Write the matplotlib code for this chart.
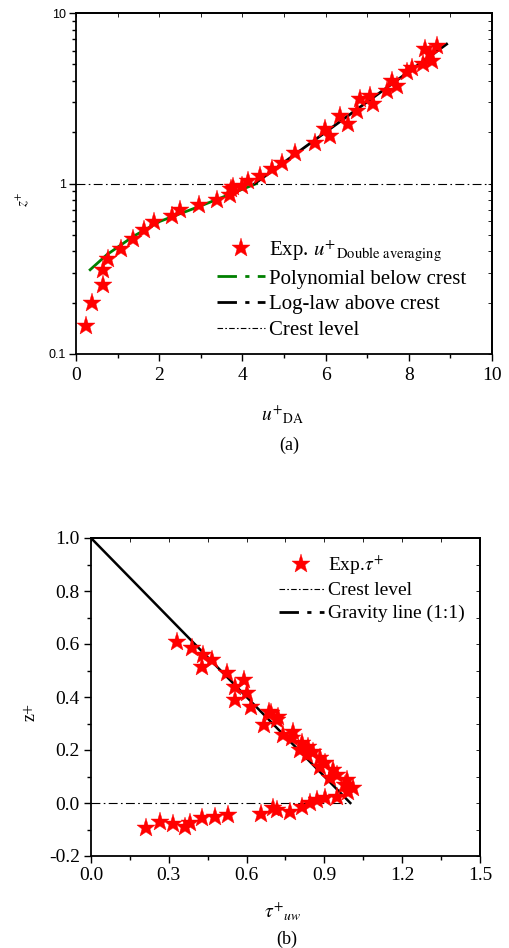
import matplotlib
matplotlib.use("Agg")
import matplotlib.pyplot as plt
from matplotlib.lines import Line2D
from matplotlib.ticker import MultipleLocator, LogLocator, NullFormatter, FixedLocator

plt.rcParams['font.family'] = ['Liberation Serif', 'DejaVu Serif']
plt.rcParams['mathtext.fontset'] = 'stix'

# ---------------- data: panel (a) ----------------
u_exp = [0.24, 0.38, 0.64, 0.64, 0.78, 1.07, 1.36, 1.64, 1.88, 2.30, 2.50, 2.96, 3.38,
         3.70, 3.72, 3.98, 3.78, 4.14, 4.42, 4.70, 4.94, 5.26, 5.75, 6.10, 5.99, 6.55,
         6.35, 6.75, 7.15, 6.83, 7.07, 7.47, 7.59, 7.71, 7.95, 8.07, 8.35, 8.55, 8.39,
         8.67, 8.51]
z_exp = [0.146, 0.20, 0.255, 0.309, 0.36, 0.413, 0.473, 0.531, 0.592, 0.642, 0.697, 0.752,
         0.805, 0.861, 0.931, 0.973, 0.95, 1.03, 1.10, 1.21, 1.32, 1.51, 1.73, 1.90, 2.08,
         2.22, 2.49, 2.66, 2.91, 3.12, 3.26, 3.49, 4.00, 3.73, 4.48, 4.79, 5.01, 5.24,
         6.14, 6.42, 5.74]
poly_u = [0.34, 0.74, 1.38, 2.02, 2.98, 3.78, 4.34]
poly_z = [0.312, 0.382, 0.49, 0.60, 0.736, 0.88, 1.0]
loglaw_u = [4.30, 8.91]
loglaw_z = [1.0, 6.57]
crest_a_u = [0, 10]
crest_a_z = [1, 1]

# ---------------- data: panel (b) ----------------
tau_exp = [0.33, 0.388, 0.433, 0.468, 0.427, 0.523, 0.59, 0.555, 0.60, 0.555, 0.616,
           0.688, 0.722, 0.693, 0.716, 0.668, 0.778, 0.739, 0.774, 0.813, 0.838, 0.806,
           0.857, 0.832, 0.883, 0.902, 0.883, 0.935, 0.948, 0.922, 0.986, 0.98, 1.012,
           0.992, 0.948, 0.902, 0.871, 0.845, 0.813, 0.768, 0.716, 0.703, 0.656, 0.53,
           0.478, 0.427, 0.382, 0.363, 0.317, 0.266, 0.212]
zb_exp = [0.609, 0.584, 0.558, 0.54, 0.514, 0.489, 0.464, 0.439, 0.416, 0.389, 0.363,
          0.345, 0.323, 0.338, 0.313, 0.294, 0.269, 0.257, 0.244, 0.225, 0.212, 0.20,
          0.194, 0.181, 0.169, 0.15, 0.137, 0.125, 0.106, 0.093, 0.087, 0.068, 0.055,
          0.043, 0.024, 0.018, 0.011, 0.001, -0.014, -0.033, -0.026, -0.02, -0.042,
          -0.045, -0.054, -0.058, -0.077, -0.089, -0.079, -0.071, -0.096]
gravity_tau = [0.0, 1.0]
gravity_z = [1.0, 0.0]
crest_b_tau = [0.0, 1.0]
crest_b_z = [0.0, 0.0]

W, H = 510, 948
fig = plt.figure(figsize=(W / 100, H / 100), dpi=100)

def px_axes(l, t, r, b):
    return fig.add_axes([l / W, 1 - b / H, (r - l) / W, (b - t) / H])

dashdot = (0, (7, 3, 1.5, 3))
star_kw = dict(marker='*', color='red', markersize=14, linestyle='none',
               markeredgewidth=0.3, markeredgecolor='red')

# ================= panel (a) =================
ax1 = px_axes(76, 13, 492, 354)
ax1.set_yscale('log')
ax1.plot(crest_a_u, crest_a_z, color='black', lw=0.8, linestyle=(0, (8, 3, 1.5, 3)), zorder=1)
ax1.plot(poly_u, poly_z, color='#008000', lw=2.0, zorder=2)
ax1.plot(loglaw_u, loglaw_z, color='black', lw=2.0, zorder=2)
ax1.plot(u_exp, z_exp, **star_kw, zorder=3)
ax1.set_xlim(0, 10)
ax1.set_ylim(0.1, 10)
ax1.xaxis.set_major_locator(MultipleLocator(2))
ax1.xaxis.set_minor_locator(MultipleLocator(1))
ax1.set_yticks([0.1, 1, 10])
ax1.set_yticklabels(['0.1', '1', '10'], family='Liberation Sans', fontsize=9)
ax1.yaxis.set_minor_locator(LogLocator(base=10, subs=range(2, 10)))
ax1.yaxis.set_minor_formatter(NullFormatter())
ax1.tick_params(axis='x', which='major', direction='out', length=5, width=1.0, labelsize=14, pad=4)
ax1.tick_params(axis='x', which='minor', direction='out', length=3, width=1.0)
ax1.tick_params(axis='y', which='major', direction='out', length=5, width=1.0, pad=2)
ax1.tick_params(axis='y', which='minor', direction='out', length=3, width=1.0)
for s in ax1.spines.values():
    s.set_linewidth(1.3)

sx1 = ax1.secondary_xaxis('top')
sx1.xaxis.set_major_locator(MultipleLocator(2))
sx1.xaxis.set_minor_locator(MultipleLocator(1))
sx1.tick_params(which='both', direction='in', length=3, width=0.6, labeltop=False)
sx1.spines['top'].set_linewidth(1.3)
sy1 = ax1.secondary_yaxis('right')
sy1.set_yscale('log')
sy1.yaxis.set_major_locator(FixedLocator([0.1, 1, 10]))
sy1.yaxis.set_minor_locator(LogLocator(base=10, subs=range(2, 10)))
sy1.yaxis.set_minor_formatter(NullFormatter())
sy1.tick_params(which='both', direction='in', length=3, width=0.6, labelright=False)
sy1.spines['right'].set_linewidth(1.3)

h1 = [Line2D([], [], **star_kw),
      Line2D([], [], color='#008000', lw=2.0, linestyle=dashdot),
      Line2D([], [], color='black', lw=2.0, linestyle=dashdot),
      Line2D([], [], color='black', lw=0.8, linestyle=(0, (5, 2, 1.5, 2)))]
l1 = ['Exp. $u^{+}{}_{\\mathrm{Double\\ averaging}}$', 'Polynomial below crest',
      'Log-law above crest', 'Crest level']
ax1.legend(h1, l1, loc='upper left', bbox_to_anchor=((217 - 76) / 416, (354 - 238) / 341),
           frameon=False, fontsize=15, handlelength=2.3, handletextpad=0.2,
           borderaxespad=0, labelspacing=0.3, borderpad=0)

fig.text(283 / W, 1 - 415 / H, '$u^{+}{}_{\\mathrm{DA}}$', ha='center', va='center', fontsize=14)
fig.text(289 / W, 1 - 445 / H, '(a)', ha='center', va='center', fontsize=13)
fig.text(23 / W, 1 - 199 / H, '$z^{+}$', ha='center', va='center', fontsize=11, rotation=90)

# ================= panel (b) =================
ax2 = px_axes(91, 538, 480, 856)
ax2.plot(crest_b_tau, crest_b_z, color='black', lw=0.8, linestyle=(0, (8, 3, 1.5, 3)), zorder=1)
ax2.plot(gravity_tau, gravity_z, color='black', lw=1.8, zorder=2)
ax2.plot(tau_exp, zb_exp, **star_kw, zorder=3)
ax2.set_xlim(0, 1.5)
ax2.set_ylim(-0.2, 1.0)
ax2.xaxis.set_minor_locator(MultipleLocator(0.15))
ax2.yaxis.set_minor_locator(MultipleLocator(0.1))
ax2.set_xticks([0.0, 0.3, 0.6, 0.9, 1.2, 1.5])
ax2.set_xticklabels(['0.0', '0.3', '0.6', '0.9', '1.2', '1.5'])
ax2.set_yticks([-0.2, 0.0, 0.2, 0.4, 0.6, 0.8, 1.0])
ax2.set_yticklabels(['-0.2', '0.0', '0.2', '0.4', '0.6', '0.8', '1.0'])
ax2.tick_params(which='major', direction='out', length=5, width=1.0, labelsize=14, pad=3)
ax2.tick_params(which='minor', direction='out', length=3, width=1.0)
for s in ax2.spines.values():
    s.set_linewidth(1.3)
sx2 = ax2.secondary_xaxis('top')
sx2.xaxis.set_major_locator(MultipleLocator(0.3))
sx2.xaxis.set_minor_locator(MultipleLocator(0.15))
sx2.tick_params(which='both', direction='in', length=3, width=0.6, labeltop=False)
sx2.spines['top'].set_linewidth(1.3)
sy2 = ax2.secondary_yaxis('right')
sy2.yaxis.set_major_locator(MultipleLocator(0.2))
sy2.yaxis.set_minor_locator(MultipleLocator(0.1))
sy2.tick_params(which='both', direction='in', length=3, width=0.6, labelright=False)
sy2.spines['right'].set_linewidth(1.3)

h2 = [Line2D([], [], **star_kw),
      Line2D([], [], color='black', lw=0.8, linestyle=(0, (5, 2, 1.5, 2))),
      Line2D([], [], color='black', lw=2.0, linestyle=dashdot)]
l2 = ['Exp.$\\tau^{+}$', 'Crest level', 'Gravity line (1:1)']
ax2.legend(h2, l2, loc='upper left', bbox_to_anchor=((279 - 91) / 389, (856 - 553) / 318),
           frameon=False, fontsize=14, handlelength=2.3, handletextpad=0.2,
           borderaxespad=0, labelspacing=0.27, borderpad=0)

fig.text(283 / W, 1 - 912 / H, '$\\tau^{+}{}_{uw}$', ha='center', va='center', fontsize=14)
fig.text(287 / W, 1 - 939 / H, '(b)', ha='center', va='center', fontsize=13)
fig.text(30 / W, 1 - 712 / H, 'z+', ha='center', va='center', fontsize=13, rotation=90)

fig.savefig('out.png', dpi=100)
